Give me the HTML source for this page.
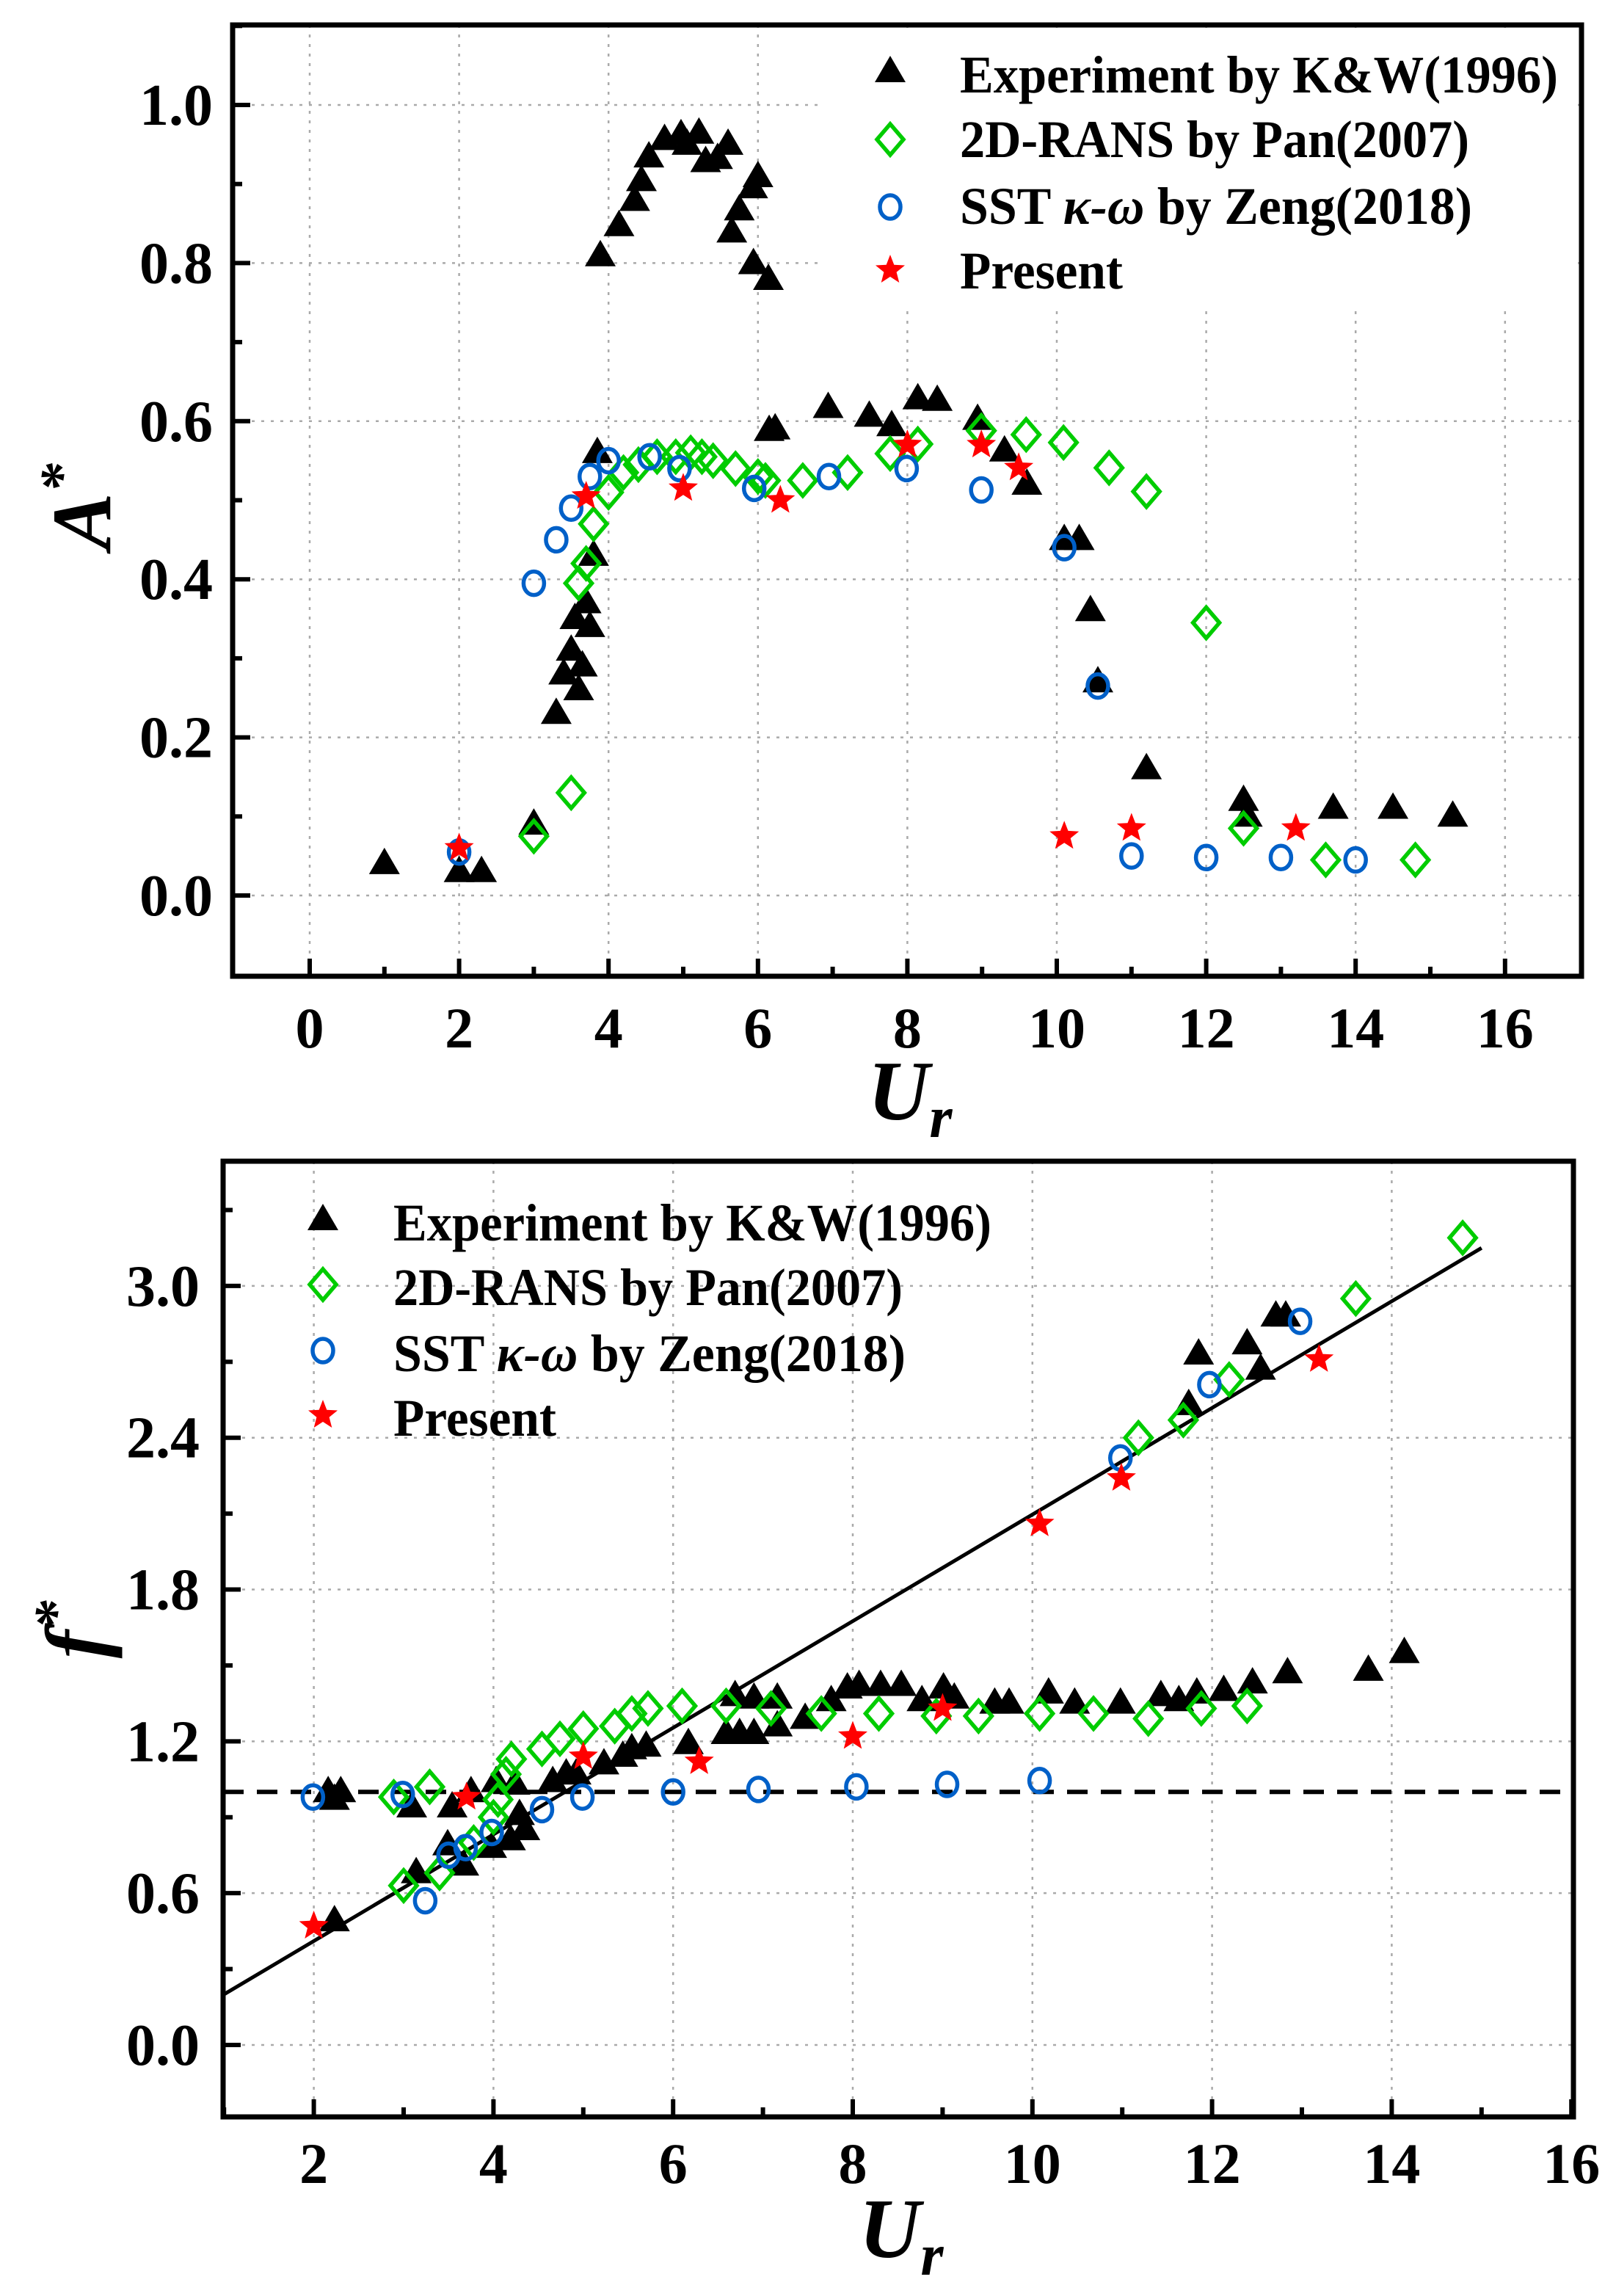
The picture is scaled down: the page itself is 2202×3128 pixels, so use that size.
<!DOCTYPE html>
<html><head><meta charset="utf-8"><style>
html,body{margin:0;padding:0;background:#fff;}
svg{display:block;}
text{font-family:"Liberation Serif","DejaVu Serif",serif;font-weight:bold;fill:#000;}
</style></head><body>
<svg id="fig" width="2202" height="3128" viewBox="0 0 2202 3128" xmlns="http://www.w3.org/2000/svg">
<rect x="0" y="0" width="2202" height="3128" fill="#fff"/>
<g id="top"></g>
<g id="bot"></g>
</svg>
<script>
// ---------- Top chart data (A* vs Ur) ----------
const topExpX = [1.0,2.0,2.3,3.0,3.3,3.4,3.5,3.55,3.6,3.65,3.7,3.75,3.8,3.85,3.89,4.14,4.35,4.44,4.54,4.75,4.97,5.05,5.21,5.30,5.46,5.60,5.65,5.75,5.93,6.00,5.94,6.14,6.15,6.23,6.94,7.49,7.79,8.14,8.40,8.94,9.30,9.60,10.1,10.3,10.45,10.55,11.2,12.5,12.55,13.7,14.5,15.3];
const topExpY = [0.04,0.03,0.03,0.09,0.23,0.28,0.31,0.35,0.26,0.29,0.37,0.34,0.43,0.56,0.809,0.847,0.879,0.904,0.934,0.956,0.962,0.95,0.964,0.928,0.932,0.95,0.839,0.867,0.895,0.909,0.799,0.779,0.588,0.59,0.617,0.606,0.594,0.628,0.626,0.602,0.562,0.52,0.45,0.45,0.36,0.27,0.16,0.12,0.10,0.11,0.11,0.10];
const topPanX = [3.0,3.5,3.6,3.7,3.8,4.0,4.2,4.4,4.65,4.9,5.1,5.25,5.4,5.7,6.0,6.1,6.6,7.2,7.77,8.14,8.99,9.59,10.09,10.70,11.2,12.0,12.5,13.6,14.8];
const topPanY = [0.075,0.13,0.395,0.42,0.47,0.51,0.535,0.545,0.555,0.555,0.56,0.555,0.55,0.54,0.53,0.525,0.525,0.535,0.559,0.571,0.588,0.583,0.573,0.541,0.511,0.345,0.085,0.045,0.045];
const topZengX = [2.0,3.0,3.3,3.5,3.75,4.0,4.55,4.95,5.95,6.95,7.99,8.99,10.1,10.55,11.0,12.0,13.0,14.0];
const topZengY = [0.055,0.395,0.45,0.49,0.53,0.55,0.555,0.54,0.515,0.53,0.54,0.513,0.44,0.265,0.05,0.048,0.048,0.045];
const topPresX = [2.0,3.7,5.0,6.3,8.0,8.99,9.49,10.1,11.0,13.2];
const topPresY = [0.06,0.505,0.515,0.50,0.57,0.57,0.541,0.075,0.085,0.085];
const topXTicks = ["0","2","4","6","8","10","12","14","16"];
const topYTicks = ["0.0","0.2","0.4","0.6","0.8","1.0"];

// ---------- Bottom chart data (f* vs Ur) ----------
const botExpX = [2.23,2.16,2.30,2.23,3.09,3.14,3.49,3.54,3.75,3.67,3.98,4.19,4.35,4.29,4.03,4.24,4.66,4.81,4.92,5.23,5.44,5.54,5.70,6.17,6.59,6.74,6.9,7.16,7.47,6.69,6.9,7.16,7.76,7.94,8.07,8.31,8.54,8.77,9.01,9.13,9.58,9.74,10.18,10.47,10.98,11.43,11.63,11.83,12.13,12.45,12.84,13.74,14.14,11.85,11.74,12.39,12.54,12.71,12.82];
const botExpY = [0.49,1.0,1.0,0.97,0.94,0.68,0.79,0.94,1.0,0.71,0.78,0.81,0.85,0.91,1.04,1.03,1.04,1.07,1.07,1.11,1.14,1.17,1.18,1.19,1.23,1.23,1.23,1.26,1.29,1.38,1.37,1.37,1.36,1.41,1.42,1.42,1.42,1.36,1.41,1.37,1.35,1.35,1.39,1.35,1.35,1.38,1.36,1.39,1.40,1.43,1.47,1.48,1.55,2.73,2.53,2.77,2.67,2.88,2.88];
const botPanX = [2.89,3.29,3.0,3.40,3.78,4.0,4.05,4.14,4.2,4.54,4.74,5.0,5.35,5.54,5.72,6.1,6.59,7.09,7.65,8.29,8.93,9.40,10.08,10.68,11.29,11.88,12.39,11.18,11.68,12.19,13.6,14.79];
const botPanY = [0.98,1.02,0.63,0.68,0.80,0.90,0.97,1.07,1.13,1.17,1.21,1.25,1.26,1.31,1.33,1.34,1.34,1.33,1.31,1.31,1.30,1.30,1.31,1.31,1.29,1.33,1.34,2.40,2.47,2.63,2.95,3.19];
const botZengX = [1.99,2.99,3.24,3.5,3.69,3.98,4.54,4.99,6.0,6.95,8.04,9.05,10.08,10.98,11.97,12.98];
const botZengY = [0.98,0.99,0.57,0.75,0.78,0.84,0.93,0.98,1.0,1.01,1.02,1.03,1.045,2.32,2.61,2.86];
const botPresX = [2.0,3.70,5.0,6.29,8.0,9.0,10.08,10.99,13.19];
const botPresY = [0.47,0.98,1.14,1.12,1.22,1.33,2.06,2.24,2.71];
const fitX = [1,15];
const fitY = [0.2,3.15];
const refLevel = [1.0];
const botXTicks = ["2","4","6","8","10","12","14","16"];
const botYTicks = ["0.0","0.6","1.2","1.8","2.4","3.0"];

const NS="http://www.w3.org/2000/svg";
function mk(tag, attrs, parent){const e=document.createElementNS(NS,tag);for(const k in attrs)e.setAttribute(k,attrs[k]);parent.appendChild(e);return e;}

const X1=v=>422+101.8*v, Y1=v=>1220-1077*v;
const X2=v=>427.6+122.4*(v-2), Y2=v=>2786-344.7*v;

function triPts(cx,cy){return `${cx-21},${cy+14} ${cx+21},${cy+14} ${cx},${cy-22}`;}
function diaPts(cx,cy){return `${cx},${cy-21} ${cx+18},${cy} ${cx},${cy+21} ${cx-18},${cy}`;}
function starPts(cx,cy){let p=[];for(let i=0;i<10;i++){const r=i%2?9:21;const a=-Math.PI/2+i*Math.PI/5;p.push((cx+r*Math.cos(a)).toFixed(1)+","+(cy+r*Math.sin(a)).toFixed(1));}return p.join(" ");}

function drawMarker(kind,cx,cy,g){
  let e;
  if(kind==="tri"){e=mk("polygon",{points:triPts(cx,cy),fill:"#000"},g);
    }
  else if(kind==="dia"){e=mk("polygon",{points:diaPts(cx,cy),fill:"none",stroke:"#00cc00","stroke-width":5.5},g);
    }
  else if(kind==="cir"){e=mk("ellipse",{cx:cx,cy:cy,rx:14,ry:16,fill:"none",stroke:"#0060c8","stroke-width":5.5},g);
    }
  else {e=mk("polygon",{points:starPts(cx,cy),fill:"#ff0000"},g);
    }
  
  return e;
}

function txt(s,x,y,size,anchor,g,extra){const t=mk("text",Object.assign({x:x,y:y,"font-size":size,"text-anchor":anchor},extra||{}),g);t.textContent=s;return t;}

// ================= TOP CHART =================
(function(){
  const g=document.getElementById("top");
  const L=317,R=2155,T=34,B=1330;
  for(let i=0;i<topXTicks.length;i++){const v=+topXTicks[i];const l=mk("line",{x1:X1(v),x2:X1(v),y1:T,y2:B,stroke:"#aaa","stroke-width":2.5,"stroke-dasharray":"4 9"},g);
    
    }
  for(let i=0;i<topYTicks.length;i++){const v=+topYTicks[i];const l=mk("line",{x1:L,x2:R,y1:Y1(v),y2:Y1(v),stroke:"#aaa","stroke-width":2.5,"stroke-dasharray":"4 9"},g);
    
    }
  const lb=mk("rect",{x:1120,y:40,width:1030,height:380,fill:"#fff"},g);
  
  
  topExpX.forEach((x,i)=>drawMarker("tri",X1(x),Y1(topExpY[i]),g));
  topPanX.forEach((x,i)=>drawMarker("dia",X1(x),Y1(topPanY[i]),g));
  topZengX.forEach((x,i)=>drawMarker("cir",X1(x),Y1(topZengY[i]),g));
  topPresX.forEach((x,i)=>drawMarker("star",X1(x),Y1(topPresY[i]),g));
  for(let v=0;v<=16;v++){const maj=v%2===0;const l=mk("line",{x1:X1(v),x2:X1(v),y1:B,y2:B-(maj?24:13),stroke:"#000","stroke-width":6},g);
    
    }
  for(let k=0;k<=11;k++){const v=k/10;const maj=k%2===0;const l=mk("line",{x1:L,x2:L+(maj?24:13),y1:Y1(v),y2:Y1(v),stroke:"#000","stroke-width":6},g);
    
    }
  const fr=mk("rect",{x:L,y:T,width:R-L,height:B-T,fill:"none",stroke:"#000","stroke-width":7},g);
  
  
  topXTicks.forEach(s=>{const t=txt(s,X1(+s),1427,78,"middle",g);
    
    });
  topYTicks.forEach(s=>{const t=txt(s,290,Y1(+s)+27,80,"end",g);
    
    });
  const yt=mk("text",{x:0,y:0,"font-size":116,"font-style":"italic",transform:"translate(150,690) rotate(-90)","text-anchor":"middle"},g);
  yt.innerHTML='A<tspan font-size="80" dy="-40">*</tspan>';
  
  
  const xt=mk("text",{x:1240,y:1525,"font-size":116,"font-style":"italic","text-anchor":"middle"},g);
  xt.innerHTML='U<tspan font-size="80" dy="24">r</tspan>';
  
  
  const lg=mk("g",{},g);
  
  
  const ly=[98,190,282,368], lb2=[126,214,305,393], lw=[815,694,698,222];
  ["tri","dia","cir","star"].forEach((k,i)=>drawMarker(k,1213,ly[i],lg));
  const labs=["Experiment by K&amp;W(1996)","2D-RANS by Pan(2007)","SST <tspan font-style=\"italic\">κ-ω</tspan>  by Zeng(2018)","Present"];
  labs.forEach((s,i)=>{const t=mk("text",{x:1308,y:lb2[i],"font-size":72,textLength:lw[i],lengthAdjust:"spacingAndGlyphs"},lg);t.innerHTML=s;
    
    });
})();

// ================= BOTTOM CHART =================
(function(){
  const g=document.getElementById("bot");
  const L=304,R=2144,T=1582,B=2884;
  for(let i=0;i<botXTicks.length;i++){const v=+botXTicks[i];if(v>=16)continue;const l=mk("line",{x1:X2(v),x2:X2(v),y1:T,y2:B,stroke:"#aaa","stroke-width":2.5,"stroke-dasharray":"4 9"},g);
    
    }
  for(let i=0;i<botYTicks.length;i++){const v=+botYTicks[i];const l=mk("line",{x1:L,x2:R,y1:Y2(v),y2:Y2(v),stroke:"#aaa","stroke-width":2.5,"stroke-dasharray":"4 9"},g);
    
    }
  const dl=mk("line",{x1:L,x2:R,y1:Y2(refLevel[0]),y2:Y2(refLevel[0]),stroke:"#000","stroke-width":6,"stroke-dasharray":"28 18"},g);
  
  
  const fl=mk("line",{x1:X2(fitX[0]),x2:X2(fitX[1]),y1:Y2(fitY[0]),y2:Y2(fitY[1]),stroke:"#000","stroke-width":5},g);
  
  
  botExpX.forEach((x,i)=>drawMarker("tri",X2(x),Y2(botExpY[i]),g));
  botPanX.forEach((x,i)=>drawMarker("dia",X2(x),Y2(botPanY[i]),g));
  botZengX.forEach((x,i)=>drawMarker("cir",X2(x),Y2(botZengY[i]),g));
  botPresX.forEach((x,i)=>drawMarker("star",X2(x),Y2(botPresY[i]),g));
  for(let v=1;v<=16;v++){const maj=v%2===0;const l=mk("line",{x1:X2(v),x2:X2(v),y1:B,y2:B-(maj?24:13),stroke:"#000","stroke-width":6},g);
    
    }
  for(let k=0;k<=11;k++){const v=k*0.3;const maj=k%2===0;const l=mk("line",{x1:L,x2:L+(maj?24:13),y1:Y2(v),y2:Y2(v),stroke:"#000","stroke-width":6},g);
    
    }
  const fr=mk("rect",{x:L,y:T,width:R-L,height:B-T,fill:"none",stroke:"#000","stroke-width":7},g);
  
  
  botXTicks.forEach(s=>{const t=txt(s,X2(+s),2974,78,"middle",g);
    
    });
  botYTicks.forEach(s=>{const t=txt(s,272,Y2(+s)+27,80,"end",g);
    
    });
  const yt=mk("text",{x:0,y:0,"font-size":116,"font-style":"italic",transform:"translate(142,2220) rotate(-90)","text-anchor":"middle"},g);
  yt.innerHTML='f<tspan font-size="80" dy="-40">*</tspan>';
  
  
  const xt=mk("text",{x:1228,y:3075,"font-size":116,"font-style":"italic","text-anchor":"middle"},g);
  xt.innerHTML='U<tspan font-size="80" dy="24">r</tspan>';
  
  
  const lg=mk("g",{},g);
  
  
  const ly=[1662,1750,1840,1928], lb2=[1690,1778,1868,1956], lw=[815,694,698,222];
  ["tri","dia","cir","star"].forEach((k,i)=>drawMarker(k,440,ly[i],lg));
  const labs=["Experiment by K&amp;W(1996)","2D-RANS by Pan(2007)","SST <tspan font-style=\"italic\">κ-ω</tspan>  by Zeng(2018)","Present"];
  labs.forEach((s,i)=>{const t=mk("text",{x:536,y:lb2[i],"font-size":72,textLength:lw[i],lengthAdjust:"spacingAndGlyphs"},lg);t.innerHTML=s;
    
    });
})();
</script>
</body></html>
